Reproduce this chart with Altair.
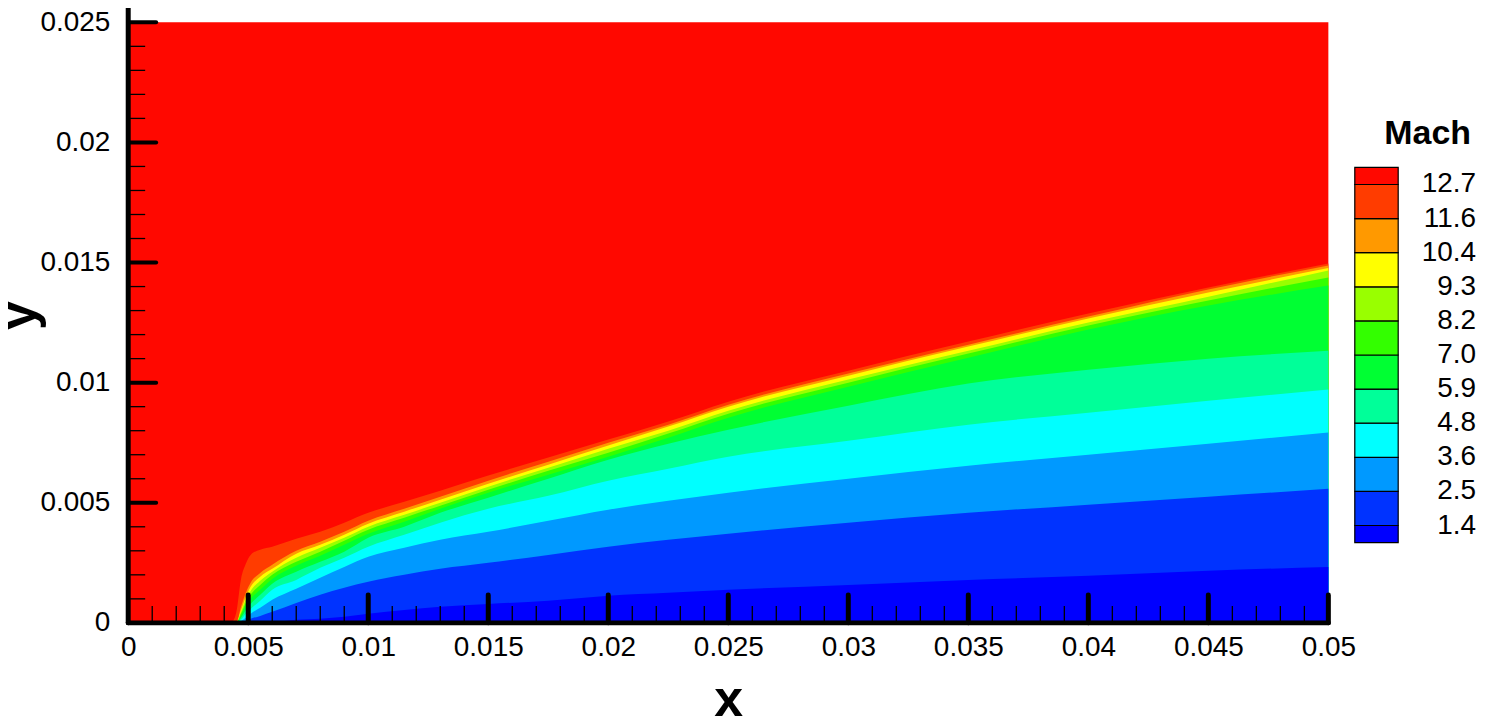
import altair as alt
import pandas as pd

FONT = "Liberation Sans"

# ---------------- data ----------------
x_grid = [0.0043, 0.0045, 0.0047, 0.0049, 0.0051, 0.0055, 0.006, 0.007, 0.008, 0.009,
          0.01, 0.0115, 0.013, 0.015, 0.0175, 0.02, 0.0225, 0.025, 0.03, 0.035,
          0.04, 0.045, 0.05]

# Contour line heights y(x) for each Mach level
y_m1_4 = [0, 0, 0, 0, 0.00004, 0.00004, 0.00004, 0.00013, 0.00017, 0.00025, 0.00038, 0.00054,
          0.00067, 0.00079, 0.00092, 0.00113, 0.00125, 0.00138, 0.00158, 0.00179, 0.00196, 0.00217, 0.00233]
y_m2_5 = [0, 0, 0.00004, 0.00008, 0.00017, 0.00029, 0.00046, 0.00083, 0.00117, 0.00146, 0.00171, 0.002,
          0.00225, 0.0025, 0.00283, 0.00317, 0.00346, 0.00371, 0.00417, 0.00458, 0.00492, 0.00525, 0.00558]
y_m3_6 = [0, 0, 0.00008, 0.00021, 0.00038, 0.00063, 0.00096, 0.00142, 0.00188, 0.00233, 0.00275, 0.00313,
          0.00346, 0.00379, 0.00425, 0.00471, 0.00508, 0.00542, 0.006, 0.00654, 0.007, 0.00746, 0.00792]
y_m4_8 = [0, 0, 0.00013, 0.00038, 0.00058, 0.00092, 0.00138, 0.00179, 0.00229, 0.00271, 0.00317, 0.00367,
          0.00417, 0.00475, 0.00529, 0.00592, 0.00642, 0.00692, 0.00758, 0.00825, 0.00875, 0.00925, 0.00971]
y_m5_9 = [0, 0, 0.00021, 0.00054, 0.00079, 0.00117, 0.00163, 0.00213, 0.00254, 0.00296, 0.00354, 0.004,
          0.00458, 0.00521, 0.006, 0.00679, 0.00746, 0.00804, 0.00904, 0.00996, 0.01054, 0.011, 0.01133]
y_m7_0 = [0, 0, 0.00029, 0.00071, 0.001, 0.00138, 0.00183, 0.00238, 0.00279, 0.00325, 0.00371, 0.00421,
          0.00475, 0.00542, 0.00617, 0.00692, 0.00771, 0.00854, 0.00983, 0.01104, 0.01221, 0.01321, 0.01404]
y_m8_2 = [0, 0, 0.00038, 0.00083, 0.00117, 0.00158, 0.002, 0.00254, 0.00296, 0.00342, 0.00388, 0.00438,
          0.00488, 0.00554, 0.00633, 0.00708, 0.00788, 0.00871, 0.01, 0.01121, 0.01238, 0.01342, 0.01438]
y_m9_3 = [0, 0, 0.00046, 0.00096, 0.00133, 0.00175, 0.00213, 0.00271, 0.00313, 0.00354, 0.004, 0.0045,
          0.005, 0.00567, 0.00646, 0.00725, 0.008, 0.00883, 0.01013, 0.01133, 0.0125, 0.01358, 0.01467]
y_m10_4 = [0, 0, 0.00054, 0.00108, 0.0015, 0.00192, 0.00225, 0.00288, 0.00325, 0.00367, 0.00413, 0.00463,
           0.00513, 0.00579, 0.00658, 0.00738, 0.00817, 0.009, 0.01029, 0.0115, 0.01267, 0.01375, 0.01477]
y_m11_6 = [0, 0, 0.00067, 0.00125, 0.00167, 0.00208, 0.00242, 0.003, 0.00338, 0.00379, 0.00425, 0.00475,
           0.00525, 0.00592, 0.00671, 0.0075, 0.00825, 0.00908, 0.01038, 0.01158, 0.01275, 0.01388, 0.01488]
y_m12_7 = [0, 0.00042, 0.00183, 0.00246, 0.00283, 0.00304, 0.00317, 0.0035, 0.00379, 0.00417, 0.00458, 0.00504,
           0.0055, 0.00613, 0.00688, 0.00763, 0.00838, 0.00921, 0.0105, 0.01171, 0.01288, 0.01396, 0.01496]

level_labels = ["1.4", "2.5", "3.6", "4.8", "5.9", "7.0", "8.2", "9.3", "10.4", "11.6", "12.7"]
level_curves = [y_m1_4, y_m2_5, y_m3_6, y_m4_8, y_m5_9, y_m7_0, y_m8_2, y_m9_3, y_m10_4, y_m11_6, y_m12_7]

# band colours from lowest Mach (below 1.4) to highest (above 12.7)
band_colors = ["#0000FF", "#0033FF", "#0099FF", "#00FFFF", "#00FF99", "#00FF33",
               "#33FF00", "#99FF00", "#FFFF00", "#FF9900", "#FF3C00", "#FF0800"]

x_domain = [0, 0.05]
y_domain = [0, 0.025]
y_axis_top = 0.0256

x_tick_labels = [0, 0.005, 0.01, 0.015, 0.02, 0.025, 0.03, 0.035, 0.04, 0.045, 0.05]
y_tick_labels = [0, 0.005, 0.01, 0.015, 0.02, 0.025]
x_major = [0.005, 0.01, 0.015, 0.02, 0.025, 0.03, 0.035, 0.04, 0.045, 0.05]
y_major = [0.005, 0.01, 0.015, 0.02, 0.025]
x_minor = [round(i * 0.001, 3) for i in range(1, 50) if i % 5]
y_minor = [round(i * 0.001, 3) for i in range(1, 25) if i % 5]

# ---------------- chart ----------------
W, H = 1203, 602

xs = alt.Scale(domain=x_domain, nice=False, zero=False)
ys = alt.Scale(domain=y_domain, nice=False, zero=False)

x_axis = alt.Axis(values=x_tick_labels, format="~g", title="x", ticks=False, tickSize=0,
                  domain=False, grid=False, labelPadding=11, labelFontSize=28, labelFont=FONT,
                  labelColor="black", labelFlush=False, labelOverlap=False,
                  titleFontSize=52, titleFont=FONT, titleFontWeight="bold", titleColor="black",
                  titleBaseline="alphabetic", titleY=92.5)
y_axis = alt.Axis(values=y_tick_labels, format="~g", title="y", ticks=False, tickSize=0,
                  domain=False, grid=False, labelPadding=18.5, labelFontSize=28, labelFont=FONT,
                  labelColor="black", labelFlush=False, labelOverlap=False,
                  titleFontSize=52, titleFont=FONT, titleFontWeight="bold", titleColor="black",
                  titleBaseline="alphabetic", titleAngle=270, titleAlign="center",
                  titleX=-93.5, titleY=293.5)

bg = alt.Chart(pd.DataFrame({"x": [x_domain[0]], "x1": [x_domain[1]],
                             "y": [y_domain[0]], "y1": [y_domain[1]]})).mark_rect(
    color=band_colors[-1]).encode(
    x=alt.X("x:Q", scale=xs, axis=x_axis), x2="x1:Q",
    y=alt.Y("y:Q", scale=ys, axis=y_axis), y2="y1:Q")

areas = []
for i in reversed(range(len(level_curves))):
    df = pd.DataFrame({"x": x_grid, "y": level_curves[i]})
    areas.append(
        alt.Chart(df).mark_area(color=band_colors[i], interpolate="monotone", opacity=1).encode(
            x=alt.X("x:Q", scale=xs, axis=x_axis),
            y=alt.Y("y:Q", scale=ys, axis=y_axis),
            y2=alt.datum(0))
    )

y_minor_rules = alt.Chart(pd.DataFrame({"y": y_minor})).mark_rule(
    color="black", strokeWidth=1.3).encode(
    y=alt.Y("y:Q", scale=ys, axis=y_axis), x=alt.value(0), x2=alt.value(17))
y_major_rules = alt.Chart(pd.DataFrame({"y": y_major})).mark_rule(
    color="black", strokeWidth=4, strokeCap="round").encode(
    y=alt.Y("y:Q", scale=ys, axis=y_axis), x=alt.value(0), x2=alt.value(28))
x_minor_rules = alt.Chart(pd.DataFrame({"x": x_minor})).mark_rule(
    color="black", strokeWidth=1.3).encode(
    x=alt.X("x:Q", scale=xs, axis=x_axis), y=alt.value(H), y2=alt.value(H - 17))
x_major_rules = alt.Chart(pd.DataFrame({"x": x_major})).mark_rule(
    color="black", strokeWidth=5, strokeCap="round").encode(
    x=alt.X("x:Q", scale=xs, axis=x_axis), y=alt.value(H), y2=alt.value(H - 28))

left_line = alt.Chart(pd.DataFrame({"y": [0], "y1": [y_axis_top]})).mark_rule(
    color="black", strokeWidth=5, strokeCap="round").encode(
    y=alt.Y("y:Q", scale=ys, axis=y_axis), y2="y1:Q", x=alt.value(0))
bottom_line = alt.Chart(pd.DataFrame({"x": [x_domain[0]], "x1": [x_domain[1]]})).mark_rule(
    color="black", strokeWidth=5, strokeCap="round").encode(
    x=alt.X("x:Q", scale=xs, axis=x_axis), x2="x1:Q", y=alt.value(H))

main = alt.layer(bg, *areas, y_minor_rules, y_major_rules, x_minor_rules, x_major_rules,
                 left_line, bottom_line)

# ---------------- legend ----------------
n = len(level_labels)
leg_boxes = pd.DataFrame({
    "lo": [-0.5] + list(range(0, n)),
    "hi": list(range(0, n)) + [n - 0.5],
    "color": band_colors,
})
leg_labels = pd.DataFrame({"idx": list(range(n)), "label": level_labels})
leg_scale = alt.Scale(domain=[-0.5, n - 0.5], range=[521.5, 145.5], nice=False, zero=False)

leg_rect = alt.Chart(leg_boxes).mark_rect(stroke="black", strokeWidth=1.2).encode(
    y=alt.Y("lo:Q", scale=leg_scale, axis=None), y2="hi:Q",
    x=alt.value(1229.5), x2=alt.value(1273),
    fill=alt.Fill("color:N", scale=None))
leg_text = alt.Chart(leg_labels).mark_text(
    align="right", baseline="middle", fontSize=28, font=FONT, color="black").encode(
    y=alt.Y("idx:Q", scale=leg_scale, axis=None), x=alt.value(1351), text="label:N")
leg_title = alt.Chart(pd.DataFrame({"t": ["Mach"]})).mark_text(
    align="right", baseline="middle", fontSize=34, font=FONT, fontWeight="bold",
    color="black").encode(x=alt.value(1346), y=alt.value(111.5), text="t:N")

legend = alt.layer(leg_rect, leg_text, leg_title)

chart = alt.layer(main, legend).resolve_scale(
    x="independent", y="independent"
).properties(
    width=W, height=H,
    padding={"left": 120.5, "top": 13.5, "right": 150, "bottom": 94},
    autosize=alt.AutoSizeParams(type="none"),
    background="white",
).configure_view(stroke=None)

chart.save("out.html", embed_options={"renderer": "svg", "actions": False})
